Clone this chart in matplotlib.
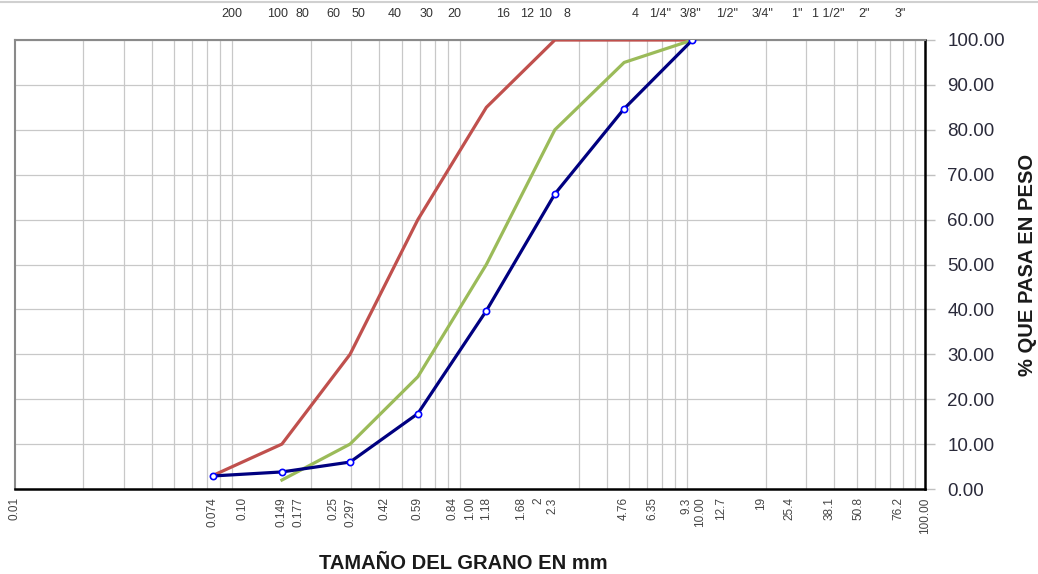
import matplotlib
matplotlib.use('Agg')
from matplotlib import pyplot as plt
from matplotlib.ticker import FixedLocator, LogLocator, NullFormatter, MultipleLocator
from matplotlib.lines import Line2D
from matplotlib.transforms import ScaledTranslation

plt.rcParams['font.family'] = ['Liberation Sans', 'DejaVu Sans']

# sieve openings (mm) and % passing
sieve_mm = [0.074, 0.149, 0.297, 0.59, 1.18, 2.36, 4.76, 9.5]
muestra = [2.9, 3.8, 6.0, 16.8, 39.7, 65.7, 84.7, 100.0]
lim_sup = [3.0, 10.0, 30.0, 60.0, 85.0, 100.0, 100.0, 100.0]
lim_inf_mm = [0.149, 0.297, 0.59, 1.18, 2.36, 4.76, 9.5]
lim_inf = [2.0, 10.0, 25.0, 50.0, 80.0, 95.0, 100.0]

# bottom axis labels (mm)
bottom_ticks = [0.01, 0.074, 0.10, 0.149, 0.177, 0.25, 0.297, 0.42, 0.59, 0.84,
                1.00, 1.18, 1.68, 2, 2.3, 4.76, 6.35, 9.3, 10.00, 12.7, 19,
                25.4, 38.1, 50.8, 76.2, 100.00]
bottom_labels = ['0.01', '0.074', '0.10', '0.149', '0.177', '0.25', '0.297', '0.42',
                 '0.59', '0.84', '1.00', '1.18', '1.68', '2', '2.3', '4.76', '6.35',
                 '9.3', '10.00', '12.7', '19', '25.4', '38.1', '50.8', '76.2', '100.00']

# sieve designations along the top
top_labels = ['200', '100', '80', '60', '50', '40', '30', '20', '16', '12', '10', '8',
              '4', '1/4"', '3/8"', '1/2"', '3/4"', '1"', '1 1/2"', '2"', '3"']
top_pos = [0.090, 0.142, 0.183, 0.250, 0.322, 0.468, 0.647, 0.851, 1.40, 1.78, 2.14,
           2.67, 5.31, 6.84, 9.27, 13.5, 19.4, 27.4, 37.5, 53.9, 77.6]

fig = plt.figure(figsize=(10.38, 5.74), dpi=100)
ax = fig.add_axes([15 / 1038, 1 - 489 / 574, 910 / 1038, 449 / 574])

ax.plot(sieve_mm, lim_sup, color='#C0504D', lw=2.3, zorder=3)
ax.plot(lim_inf_mm, lim_inf, color='#9BBB59', lw=2.3, zorder=3)
ax.plot(sieve_mm, muestra, color='#000080', lw=2.3, zorder=4,
        marker='o', ms=4.5, mfc='white', mec='#0000FF', mew=1.2)

ax.set_xscale('log')
ax.set_xlim(0.01, 100)
ax.set_ylim(0, 100)

# log grid (1..9 per decade) and 10% horizontal grid
ax.xaxis.set_major_locator(FixedLocator(bottom_ticks))
ax.xaxis.set_minor_locator(LogLocator(base=10, subs=range(1, 10), numticks=20))
ax.xaxis.set_minor_formatter(NullFormatter())
ax.set_xticklabels(bottom_labels, rotation=90, fontsize=8.5, color='#444444')
ax.tick_params(axis='x', which='both', length=0, pad=6)
ax.grid(True, which='minor', axis='x', color='#c8c8c8', lw=0.9)
ax.grid(False, which='major', axis='x')
ax.yaxis.set_major_locator(MultipleLocator(10))
ax.grid(True, which='major', axis='y', color='#c8c8c8', lw=0.9)
ax.set_axisbelow(True)

# 9.3 and 10.00 sit very close together: spread them apart a little
for lab in ax.get_xticklabels():
    if lab.get_text() == '9.3':
        lab.set_transform(lab.get_transform() + ScaledTranslation(-4 / 100, 0, fig.dpi_scale_trans))
    elif lab.get_text() == '10.00':
        lab.set_transform(lab.get_transform() + ScaledTranslation(3 / 100, 0, fig.dpi_scale_trans))

ax.yaxis.tick_right()
ax.set_yticks(range(0, 101, 10))
ax.set_yticklabels(['%.2f' % v for v in range(0, 101, 10)], fontsize=13.5, color='#2a2a3a')
ax.tick_params(axis='y', length=7, width=1, color='#c0c0c0', pad=9)

for side in ['left', 'top']:
    ax.spines[side].set_color('#8a8a8a')
    ax.spines[side].set_linewidth(1.5)
for side in ['right', 'bottom']:
    ax.spines[side].set_color('black')
    ax.spines[side].set_linewidth(1.8)

for lab, xp in zip(top_labels, top_pos):
    ax.text(xp, 1.045, lab, transform=ax.get_xaxis_transform(), ha='center', va='bottom',
            fontsize=9, color='#333333')

ax.text(0.493, -0.145, 'TAMAÑO DEL GRANO EN mm', transform=ax.transAxes, ha='center',
        va='top', fontsize=14.5, fontweight='bold', color='#1a1a1a')
ax.text(1.113, 0.5, '% QUE PASA EN PESO', transform=ax.transAxes, ha='center',
        va='center', rotation=90, fontsize=14.5, fontweight='bold', color='#1a1a1a')

# frame line at the top of the chart area
fig.add_artist(Line2D([0, 1], [1 - 2 / 574, 1 - 2 / 574], transform=fig.transFigure,
                      color='#d0d0d0', lw=1.5))

fig.savefig('out.png', dpi=100)
